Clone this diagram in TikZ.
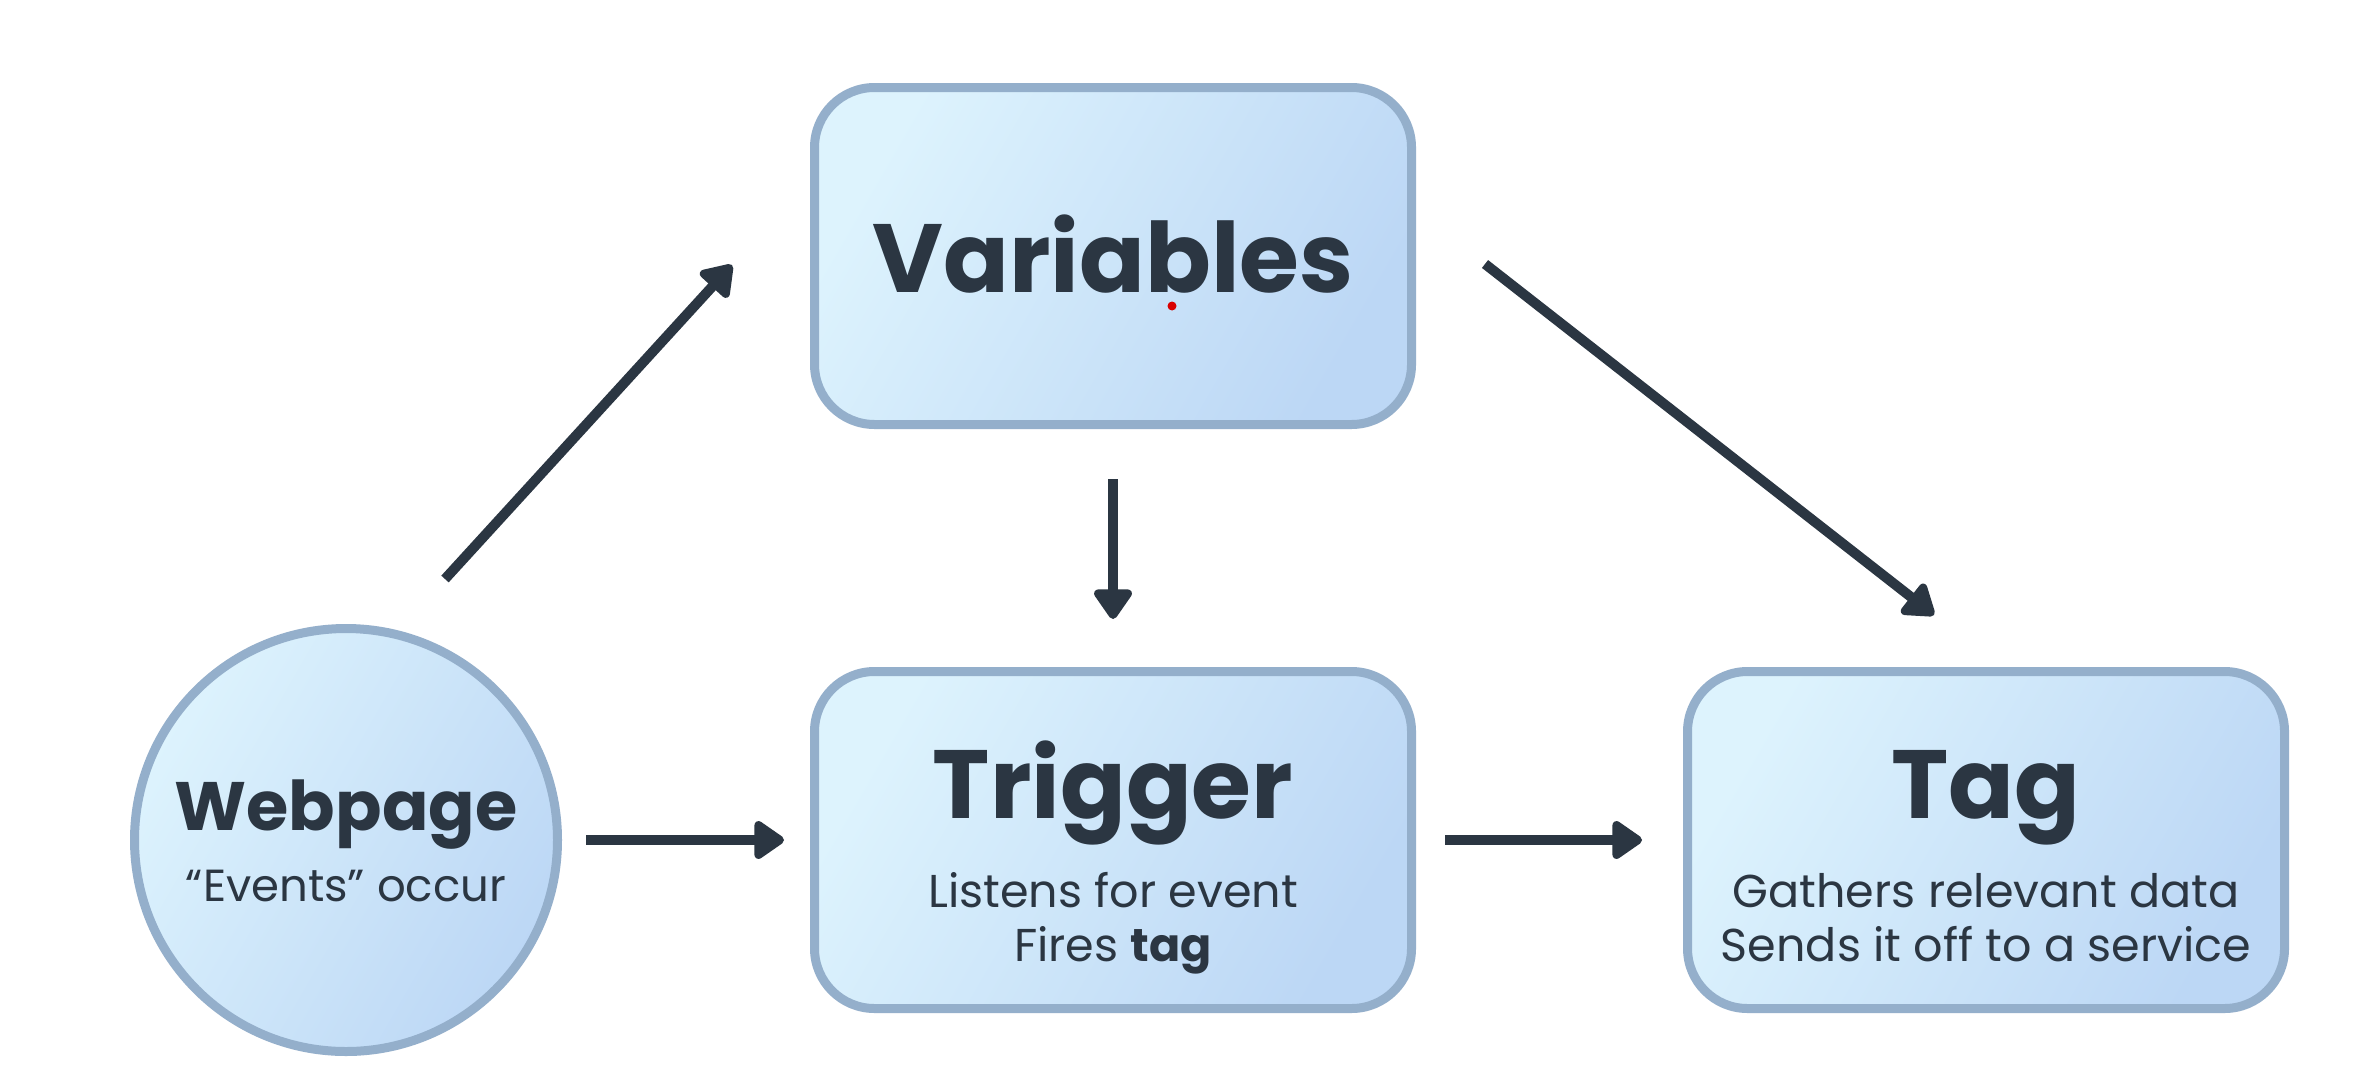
\documentclass[tikz,border=0pt]{standalone}
\usepackage{fontspec}
\setmainfont{Poppins}
\usetikzlibrary{positioning,arrows.meta}

\definecolor{boxedge}{HTML}{94AFCB}
\definecolor{boxleft}{HTML}{DDF3FD}
\definecolor{boxright}{HTML}{BCD7F5}
\definecolor{ink}{HTML}{2B3642}

\begin{document}
\begin{tikzpicture}
	[
		flow/.style={draw=ink, line width=1mm, -{Triangle[length=3.3mm,width=4.3mm,round]}}
	]
	
	\tikzstyle{Box} = [
		rectangle, 
		rounded corners=6mm, 
		minimum width=5.97cm, 
		minimum height=3.37cm, 
		inner sep=0pt, 
		draw=boxedge, 
		line width=0.9mm, 
		top color=boxleft, 
		bottom color=boxright,
		shading angle=60
	]
	\tikzstyle{Round} = [circle, minimum size=4.23cm, inner sep=0pt, draw=boxedge, line width=0.9mm, top color=boxleft, bottom color=boxright, shading angle=60]
	\tikzstyle{Title} = [anchor=base, inner sep=0pt, text=ink, font=\fontsize{27.6}{33}\selectfont\bfseries]
	\tikzstyle{Head} = [anchor=base, inner sep=0pt, text=ink, font=\fontsize{19.5}{24}\selectfont\bfseries]
	\tikzstyle{Note} = [anchor=base, inner sep=0pt, text=ink, font=\fontsize{13.1}{16}\selectfont]
	
	\useasboundingbox (0,0) rectangle (23.62,10.90);
	\fill [white] (0,0) rectangle (23.62,10.90);
	
	% boxes
	\node [Box] (trig) at (11.13,2.50) {};
	\node [Box, above=2.38cm of trig] (var) {};
	\node [Box, right=2.67cm of trig] (tag) {};
	\node [Round, left=2.48cm of trig] (web) {};
	
	% texts
	\node [Title] (varT) at ([yshift=-0.36cm]var.center) {Variables};
	\node [Title] (trigT) at ([yshift=0.22cm]trig.center) {Trigger};
	\node [Note] (trigA) at ([yshift=-0.67cm]trig.center) {Listens for event};
	\node [Note] (trigB) at ([yshift=-1.21cm]trig.center) {Fires \textbf{tag}};
	\node [Title] (tagT) at ([yshift=0.22cm]tag.center) {Tag};
	\node [Note] (tagA) at ([yshift=-0.67cm]tag.center) {Gathers relevant data};
	\node [Note] (tagB) at ([yshift=-1.21cm]tag.center) {Sends it off to a service};
	\node [Head] (webT) at ([yshift=0.10cm]web.center) {Webpage};
	\node [Note, font=\fontsize{12.8}{16}\selectfont] (webA) at ([yshift=-0.61cm]web.center) {“Events” occur};
	
	% arrows
	\draw [flow, shorten <=2.4mm, shorten >=2.6mm] (web) -- (trig);
	\draw [flow, shorten <=2.9mm, shorten >=4.1mm] (trig) -- (tag);
	\draw [flow, shorten <=5mm, shorten >=4.8mm] (var) -- (trig);
	\draw [flow] ([shift={(0.99,2.61)}]web.center) -- ([shift={(-0.78,-0.09)}]var.west);
	\draw [flow] ([shift={(0.69,-0.08)}]var.east) -- ([shift={(-0.52,0.52)}]tag.north);
	
	\fill [red!85!black] (11.72,7.84) circle (0.045);
\end{tikzpicture}
\end{document}
